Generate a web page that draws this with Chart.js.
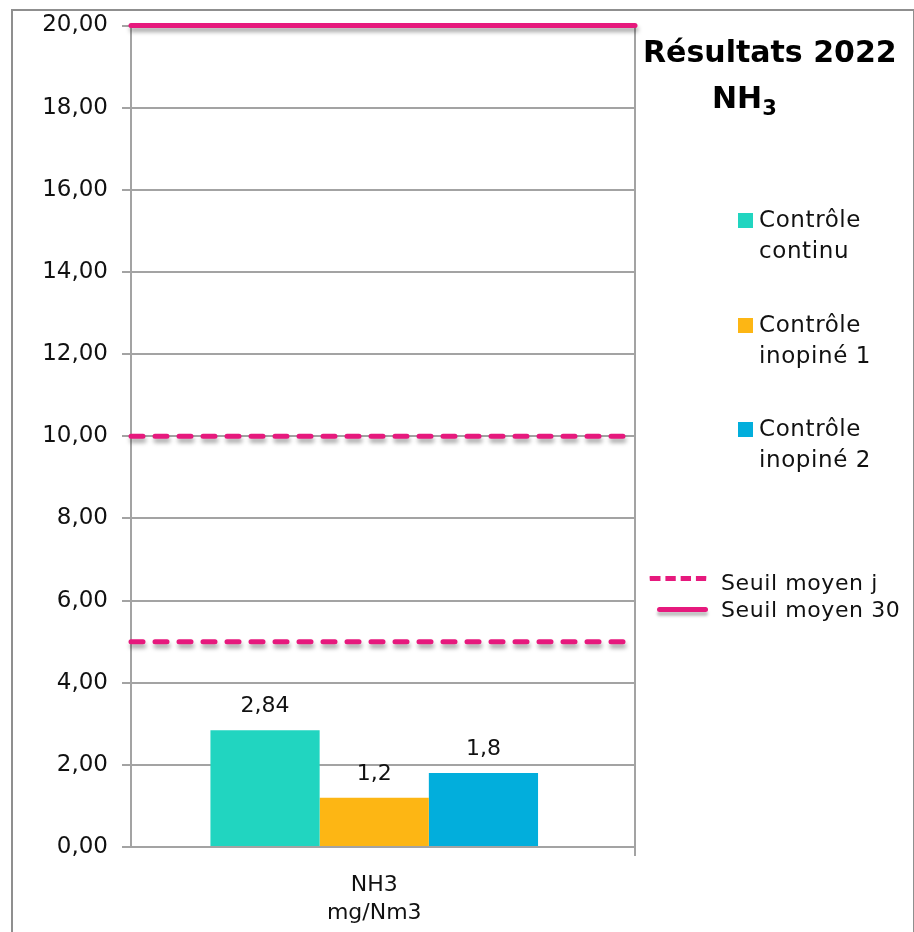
<!DOCTYPE html>
<html>
<head>
<meta charset="utf-8">
<script src="https://cdn.jsdelivr.net/npm/chart.js@4"></script>
<style>
  body { margin: 0; background: #fff; font-family: "DejaVu Sans", sans-serif; }
  #wrap { position: relative; width: 914px; height: 932px; overflow: hidden; }
  #frame { position: absolute; left: 11px; top: 9px; width: 900px; height: 940px; border: 2px solid #8f8f8f; }
  canvas { position: absolute; left: 0; top: 0; }
  #title { position: absolute; left: 643px; top: 32px; font-weight: bold; font-size: 30px; line-height: 40px; color: #000; }
  #title .sub { position: absolute; left: 69px; top: 46px; white-space: nowrap; }
  #title sub { font-size: 21px; vertical-align: -7px; }
  .leg { position: absolute; font-size: 23px; line-height: 31px; color: #111; white-space: nowrap; letter-spacing: 0.6px; }
  .sq { position: absolute; width: 15px; height: 15px; }
  .ln { position: absolute; height: 0; border-top-width: 5px; border-radius: 3px; box-shadow: 0 4px 3px rgba(0,0,0,0.25); }
</style>
</head>
<body>
<div id="wrap">
  <canvas id="myChart" width="914" height="932"></canvas>
  <div id="frame"></div>
  <div id="title">Résultats 2022<div class="sub">NH<sub>3</sub></div></div>
  <div id="legend"></div>
</div>
<script>
// categories / series
const categories = [['NH3', 'mg/Nm3']];
const seriesLabels = ['Contrôle continu', 'Contrôle inopiné 1', 'Contrôle inopiné 2'];
const seriesValues = [2.84, 1.2, 1.8];
const seriesColors = ['#21D5C0', '#FDB614', '#02AEDC'];

// threshold lines
const seuilJour = [10, 5];
const seuil30 = [20];
const seuilColor = '#E6197D';
const lineLabels = ['Seuil moyen j', 'Seuil moyen 30'];

// y axis
const yMin = 0, yMax = 20, yStep = 2;

function fmt(v, d) {
  return (d === undefined ? String(v) : v.toFixed(d)).replace('.', ',');
}

var datasets = seriesLabels.map((lab, i) => ({
  label: lab,
  data: [seriesValues[i]],
  backgroundColor: seriesColors[i],
  barPercentage: 1,
  categoryPercentage: 0.65
}));

// horizontal threshold lines, placed with the y scale
const seuilLines = {
  id: 'seuilLines',
  afterDatasetsDraw(chart) {
    const ctx = chart.ctx;
    const y = chart.scales.y;
    const area = chart.chartArea;
    const draw = (v, dashed) => {
      const py = y.getPixelForValue(v);
      ctx.save();
      ctx.strokeStyle = seuilColor;
      ctx.lineWidth = 5;
      ctx.lineCap = 'round';
      ctx.setLineDash(dashed ? [12, 12] : []);
      ctx.shadowColor = 'rgba(0,0,0,0.35)';
      ctx.shadowBlur = 4;
      ctx.shadowOffsetY = 4;
      ctx.shadowOffsetX = 1;
      ctx.beginPath();
      ctx.moveTo(area.left, py);
      ctx.lineTo(area.right, py);
      ctx.stroke();
      ctx.restore();
    };
    seuilJour.forEach(v => draw(v, true));
    seuil30.forEach(v => draw(v, false));
  }
};

const valueLabels = {
  id: 'valueLabels',
  afterDatasetsDraw(chart) {
    const ctx = chart.ctx;
    ctx.save();
    ctx.font = '22px "DejaVu Sans"';
    ctx.fillStyle = '#111';
    ctx.textAlign = 'center';
    ctx.textBaseline = 'alphabetic';
    chart.data.datasets.forEach((ds, i) => {
      const el = chart.getDatasetMeta(i).data[0];
      ctx.fillText(fmt(ds.data[0]), el.x, el.y - 18);
    });
    ctx.restore();
  }
};

Chart.defaults.font.family = '"DejaVu Sans", sans-serif';
Chart.defaults.color = '#111';

const ctx = document.getElementById('myChart');
new Chart(ctx, {
  type: 'bar',
  data: { labels: categories, datasets: datasets },
  options: {
    responsive: false,
    animation: false,
    layout: { padding: { top: 24, right: 279, left: 0, bottom: 0 } },
    plugins: { legend: { display: false }, tooltip: { enabled: false } },
    scales: {
      x: {
        offset: true,
        grid: { offset: true, color: '#a3a3a3', lineWidth: 2, tickLength: 9 },
        border: { color: '#a3a3a3', width: 2 },
        ticks: { font: { size: 22, lineHeight: 1.27 }, padding: 15, color: '#111' },
        // the group sits a little left of the plot centre in the original
        afterBuildTicks(scale) { scale._valueRange = 1.036; },
        afterFit(scale) { scale.height = 85; }
      },
      y: {
        min: yMin, max: yMax,
        ticks: { stepSize: yStep, font: { size: 23, lineHeight: 1 }, padding: 14, color: '#111',
          callback: v => fmt(v, 2) },
        grid: { color: '#a3a3a3', lineWidth: 2, tickLength: 9 },
        border: { color: '#a3a3a3', width: 2 },
        afterFit(scale) { scale.width = 131; }
      }
    }
  },
  plugins: [seuilLines, valueLabels]
});

// legend built from the series arrays
var leg = document.getElementById('legend');
var legTops = [204, 309, 413];
seriesLabels.forEach((lab, i) => {
  var words = lab.split(' ');
  var sq = document.createElement('div');
  sq.className = 'sq';
  sq.style.left = '738px';
  sq.style.top = (legTops[i] + 9) + 'px';
  sq.style.background = seriesColors[i];
  leg.appendChild(sq);
  var t = document.createElement('div');
  t.className = 'leg';
  t.style.left = '759px';
  t.style.top = legTops[i] + 'px';
  t.innerHTML = words[0] + '<br>' + words.slice(1).join(' ');
  leg.appendChild(t);
});
lineLabels.forEach((lab, i) => {
  var l = document.createElement('div');
  l.className = 'ln';
  l.style.left = (i === 0 ? 648 : 657) + 'px';
  l.style.width = (i === 0 ? 60 : 51) + 'px';
  l.style.top = (i === 0 ? 576 : 607) + 'px';
  l.style.borderTopStyle = i === 0 ? 'dashed' : 'solid';
  l.style.borderTopColor = seuilColor;
  if (i === 0) { l.style.boxShadow = 'none'; }
  leg.appendChild(l);
  var t = document.createElement('div');
  t.className = 'leg';
  t.style.left = '721px';
  t.style.top = (i === 0 ? 569 : 596) + 'px';
  t.style.fontSize = '22px';
  t.style.lineHeight = '28px';
  t.textContent = lab;
  leg.appendChild(t);
});
</script>
</body>
</html>
